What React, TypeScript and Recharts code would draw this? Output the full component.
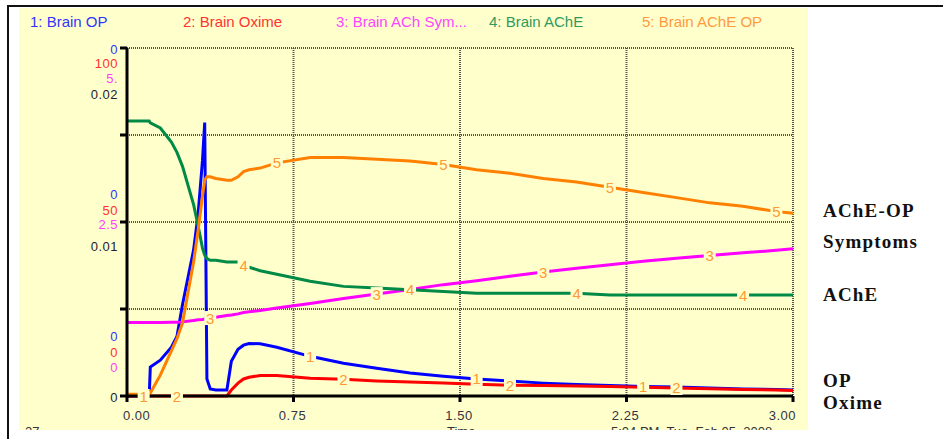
import React from "react";
import { LineChart, Line, XAxis, YAxis, CartesianGrid } from "recharts";

// time (months) and the five stock values
const time = [
  0, 0.075, 0.1, 0.105, 0.15, 0.2, 0.225, 0.25, 0.3, 0.32, 0.34, 0.35, 0.36,
  0.375, 0.4, 0.45, 0.47, 0.5, 0.525, 0.55, 0.6, 0.675, 0.825, 0.975, 1.125,
  1.275, 1.425, 1.575, 1.725, 1.875, 2.025, 2.175, 2.325, 2.475, 2.625, 2.775,
  2.925, 3.0,
];

// Brain OP, shown as share of its (tiny) axis maximum
const brainOP = [
  0, 0, 0, 0.083, 0.103, 0.14, 0.171, 0.263, 0.42, 0.52, 0.677, 0.786, 0.049,
  0.02, 0.017, 0.017, 0.1, 0.134, 0.146, 0.151, 0.15, 0.14, 0.114, 0.094, 0.08,
  0.066, 0.057, 0.049, 0.043, 0.037, 0.033, 0.03, 0.027, 0.026, 0.023, 0.02,
  0.019, 0.017,
];

const brainOxime = [
  0, 0, 0, 0, 0, 0, 0, 0, 0, 0, 0, 0, 0, 0, 0, 0, 1.7, 3.7, 4.9, 5.4, 5.9, 5.9,
  5.1, 4.8, 4.3, 4.0, 3.7, 3.4, 3.1, 3.0, 2.9, 2.7, 2.5, 2.3, 2.1, 1.9, 1.7,
  1.6,
];

const brainSymptoms = [
  1.057, 1.057, 1.057, 1.057, 1.057, 1.06, 1.06, 1.065, 1.086, 1.095, 1.1,
  1.105, 1.11, 1.12, 1.13, 1.157, 1.165, 1.18, 1.2, 1.21, 1.23, 1.264, 1.33,
  1.4, 1.464, 1.53, 1.6, 1.657, 1.72, 1.78, 1.836, 1.886, 1.936, 1.98, 2.02,
  2.057, 2.093, 2.114,
];

const brainAChE = [
  0.0158, 0.0158, 0.0158, 0.0157, 0.0154, 0.0146, 0.014, 0.0132, 0.011, 0.0098,
  0.0085, 0.0081, 0.0079, 0.0078, 0.0078, 0.0077, 0.0077, 0.0077, 0.0075,
  0.0074, 0.0072, 0.007, 0.0066, 0.0063, 0.0062, 0.0061, 0.006, 0.0059, 0.0059,
  0.0059, 0.0059, 0.0058, 0.0058, 0.0058, 0.0058, 0.0058, 0.0058, 0.0058,
];

const brainAChEOP = [
  0.0001, 0.0001, 0.0001, 0.00017, 0.0012, 0.0026, 0.0033, 0.0042, 0.0077,
  0.0095, 0.0115, 0.0124, 0.0126, 0.0126, 0.0125, 0.0124, 0.0124, 0.0126,
  0.0129, 0.013, 0.0131, 0.0134, 0.0137, 0.0137, 0.0136, 0.0135, 0.0133, 0.013,
  0.0128, 0.0125, 0.0123, 0.012, 0.0117, 0.0114, 0.0111, 0.0109, 0.0106,
  0.0105,
];

// where Stella stamps the series number on each curve
const opMarks = [0.075, 0.825, 1.575, 2.325];
const oximeMarks = [0.225, 0.975, 1.725, 2.475];
const symptomMarks = [0.375, 1.125, 1.875, 2.625];
const acheMarks = [0.525, 1.275, 2.025, 2.775];
const acheOpMarks = [0.675, 1.425, 2.175, 2.925];

const xTicks = [0, 0.75, 1.5, 2.25, 3];
const xTickLabels = ["0.00", "0.75", "1.50", "2.25", "3.00"];

// scale labels per axis: bottom, middle, top
const opTickLabels = ["0", "0", "0"];
const oximeTickLabels = ["0", "50", "100"];
const symptomTickLabels = ["0", "2.5", "5."];
const acheTickLabels = ["0", "0.01", "0.02"];
const acheTicks = [0, 0.005, 0.01, 0.015, 0.02];

const legendNames = [
  "1: Brain OP",
  "2: Brain Oxime",
  "3: Brain ACh Sym...",
  "4: Brain AChE",
  "5: Brain AChE OP",
];

const sideNotes = ["AChE-OP", "Symptoms", "AChE", "OP", "Oxime"];

const data = time.map((t, i) => ({
  t,
  op: brainOP[i],
  oxime: brainOxime[i],
  symptoms: brainSymptoms[i],
  ache: brainAChE[i],
  acheOp: brainAChEOP[i],
}));

const YELLOW = "#ffffcc";
const FONT = "'Liberation Sans', Arial, sans-serif";

const series = [
  { key: "op", axis: "op", color: "#0000ff", num: "1", marks: opMarks, legend: "#3333ff" },
  { key: "oxime", axis: "oxime", color: "#ff0000", num: "2", marks: oximeMarks, legend: "#ff3333" },
  { key: "symptoms", axis: "symptoms", color: "#ff00ff", num: "3", marks: symptomMarks, legend: "#ff44ff" },
  { key: "ache", axis: "ache", color: "#008a45", num: "4", marks: acheMarks, legend: "#2f9a5c" },
  { key: "acheOp", axis: "ache", color: "#ff8000", num: "5", marks: acheOpMarks, legend: "#ff9a40" },
];

// label column: one entry per axis, with its vertical shift at bottom/mid/top
const stack = [
  { labels: opTickLabels, color: "#3333ff", shift: [-60, -28, 1] },
  { labels: oximeTickLabels, color: "#ff3030", shift: [-44, -12, 15] },
  { labels: symptomTickLabels, color: "#ff40ff", shift: [-29, 2, 30] },
  { labels: acheTickLabels, color: "#222233", shift: [1, 24, 46] },
];

const makeDot = (num: string, marks: number[]) => (props: any) => {
  const { cx, cy, payload, index } = props;
  if (cx == null || cy == null || !marks.includes(payload.t)) {
    return <g key={`d${num}-${index}`} />;
  }
  return (
    <g key={`d${num}-${index}`}>
      <rect x={cx - 6} y={cy - 7} width={12} height={14} fill={YELLOW} />
      <text
        x={cx}
        y={cy + 5.5}
        textAnchor="middle"
        fontSize={15}
        fontFamily={FONT}
        fill="#ff9933"
      >
        {num}
      </text>
    </g>
  );
};

const YTick = (props: any) => {
  const { y, payload, index } = props;
  const slot = [0, -1, 1, -1, 2][acheTicks.indexOf(payload.value)];
  if (slot == null || slot < 0) return <g key={`yt-${index}`} />;
  return (
    <g key={`yt-${index}`}>
      {stack.map((s) => (
        <text
          key={s.color}
          x={118}
          y={y + s.shift[slot] + 4.5}
          textAnchor="end"
          fontSize={13}
          letterSpacing={0.5}
          fontFamily={FONT}
          fill={s.color}
        >
          {s.labels[slot]}
        </text>
      ))}
    </g>
  );
};

const XTick = (props: any) => {
  const { x, y, payload, index } = props;
  const i = xTicks.indexOf(payload.value);
  const anchor = i === 0 ? "start" : i === xTicks.length - 1 ? "end" : "middle";
  const dx = i === 0 ? -4 : i === xTicks.length - 1 ? 3 : -1;
  return (
    <text
      key={`xt-${index}`}
      x={x + dx}
      y={y + 16}
      textAnchor={anchor}
      fontSize={13}
      letterSpacing={0.5}
      fontFamily={FONT}
      fill="#333344"
    >
      {xTickLabels[i]}
    </text>
  );
};

const App: React.FC = () => {
  return (
    <div
      style={{
        position: "fixed",
        left: 0,
        top: 0,
        width: 943,
        height: 439,
        background: "#fff",
        overflow: "hidden",
      }}
    >
      {/* window frame */}
      <div style={{ position: "absolute", left: 7, top: 5, width: 936, height: 2, background: "#111" }} />
      <div style={{ position: "absolute", left: 7, top: 5, width: 2, height: 434, background: "#111" }} />
      <div
        style={{
          position: "absolute",
          left: 19,
          top: 8,
          width: 789,
          height: 422,
          background: YELLOW,
          overflow: "hidden",
          fontFamily: FONT,
          color: "#333",
          fontSize: 13,
        }}
      >
        {legendNames.map((name, i) => (
          <div
            key={name}
            style={{
              position: "absolute",
              left: 11 + i * 153,
              top: 5,
              fontSize: 15,
              whiteSpace: "nowrap",
              color: series[i].legend,
            }}
          >
            {name}
          </div>
        ))}
        <div style={{ position: "absolute", left: 6, top: 416 }}>27</div>
        <div style={{ position: "absolute", left: 428, top: 416 }}>Time</div>
        <div style={{ position: "absolute", left: 592, top: 416, whiteSpace: "pre" }}>
          5:04 PM  Tue, Feb 05, 2008
        </div>
      </div>

      {sideNotes.map((note, i) => (
        <div
          key={note}
          style={{
            position: "absolute",
            left: 823,
            top: [201, 232, 285, 371, 393][i],
            fontFamily: "'Liberation Serif', 'Times New Roman', serif",
            fontWeight: "bold",
            fontSize: 19,
            letterSpacing: 1.2,
            lineHeight: "20px",
            color: "#111",
          }}
        >
          {note}
        </div>
      ))}

      <div style={{ position: "absolute", left: 0, top: 0 }}>
        <LineChart
          width={943}
          height={439}
          data={data}
          margin={{ top: 48, right: 150, left: 87, bottom: 13 }}
        >
          <CartesianGrid
            yAxisId="ache"
            stroke="#555"
            strokeWidth={2}
            strokeDasharray="1 1"
          />
          <XAxis
            dataKey="t"
            type="number"
            domain={[0, 3]}
            ticks={xTicks}
            height={30}
            axisLine={{ stroke: "#000", strokeWidth: 3 }}
            tickLine={{ stroke: "#000", strokeWidth: 3 }}
            tickSize={6}
            tick={XTick}
            interval={0}
          />
          <YAxis yAxisId="op" domain={[0, 1]} hide />
          <YAxis yAxisId="oxime" domain={[0, 100]} hide />
          <YAxis yAxisId="symptoms" domain={[0, 5]} hide />
          <YAxis
            yAxisId="ache"
            domain={[0, 0.02]}
            ticks={acheTicks}
            width={40}
            axisLine={{ stroke: "#000", strokeWidth: 3 }}
            tickLine={{ stroke: "#000", strokeWidth: 3 }}
            tickSize={7}
            tick={YTick}
            interval={0}
          />
          {series.map((s) => (
            <Line
              key={s.key}
              yAxisId={s.axis}
              dataKey={s.key}
              type="linear"
              stroke={s.color}
              strokeWidth={3}
              dot={makeDot(s.num, s.marks)}
              activeDot={false}
              isAnimationActive={false}
            />
          ))}
        </LineChart>
      </div>
    </div>
  );
};

export default App;
